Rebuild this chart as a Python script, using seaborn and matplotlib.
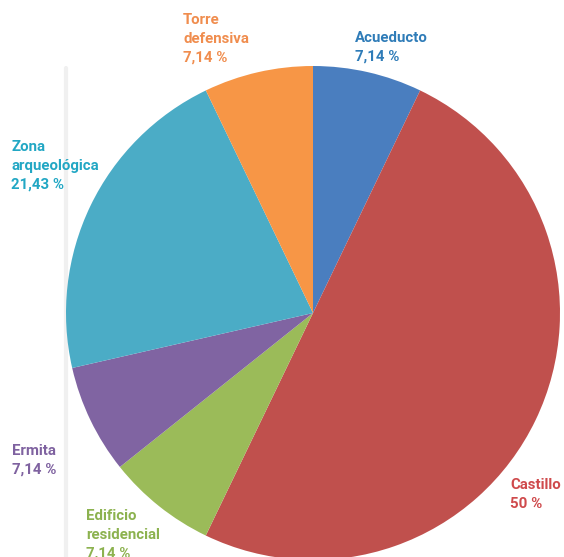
import matplotlib
matplotlib.use("Agg")
import matplotlib.pyplot as plt
import seaborn as sns

categories = ["Acueducto", "Castillo", "Edificio\nresidencial", "Ermita", "Zona\narqueológica", "Torre\ndefensiva"]
values = [7.14, 50, 7.14, 7.14, 21.43, 7.14]
value_labels = ["7,14 %", "50 %", "7,14 %", "7,14 %", "21,43 %", "7,14 %"]
slice_colors = ["#4a7ebf", "#c0504d", "#9bbb59", "#8064a2", "#4bacc6", "#f79646"]
text_colors = ["#2f7cb8", "#cf4a4c", "#8cb24f", "#7f62a0", "#22a7c4", "#f08d4e"]
# label anchor (pixel, top-left)
label_pos = [(355, 31), (510, 478), (86, 509), (12, 444), (11, 140), (183, 13)]

sns.set_theme(style="white")
plt.rcParams['font.family'] = ['Roboto', 'DejaVu Sans']

W, H = 564, 557
fig = plt.figure(figsize=(W / 100, H / 100), dpi=100)
ax = fig.add_axes([0, 0, 1, 1])

# faint vertical guide on the left
ax.plot([66, 66], [H - 68, 0], color="#f0f0f0", lw=3, zorder=0)

ax.pie(values, colors=slice_colors, startangle=90, counterclock=False,
       center=(313, H - 313), radius=247, frame=True,
       wedgeprops=dict(linewidth=0))
ax.set_xlim(0, W)
ax.set_ylim(0, H)
ax.axis("off")

for cat, vl, col, (px, py) in zip(categories, value_labels, text_colors, label_pos):
    ax.text(px, H - py, cat + "\n" + vl, color=col, fontsize=10.8, fontweight="bold",
            ha="left", va="top", linespacing=1.42, zorder=5)

fig.savefig("out.png", dpi=100)
